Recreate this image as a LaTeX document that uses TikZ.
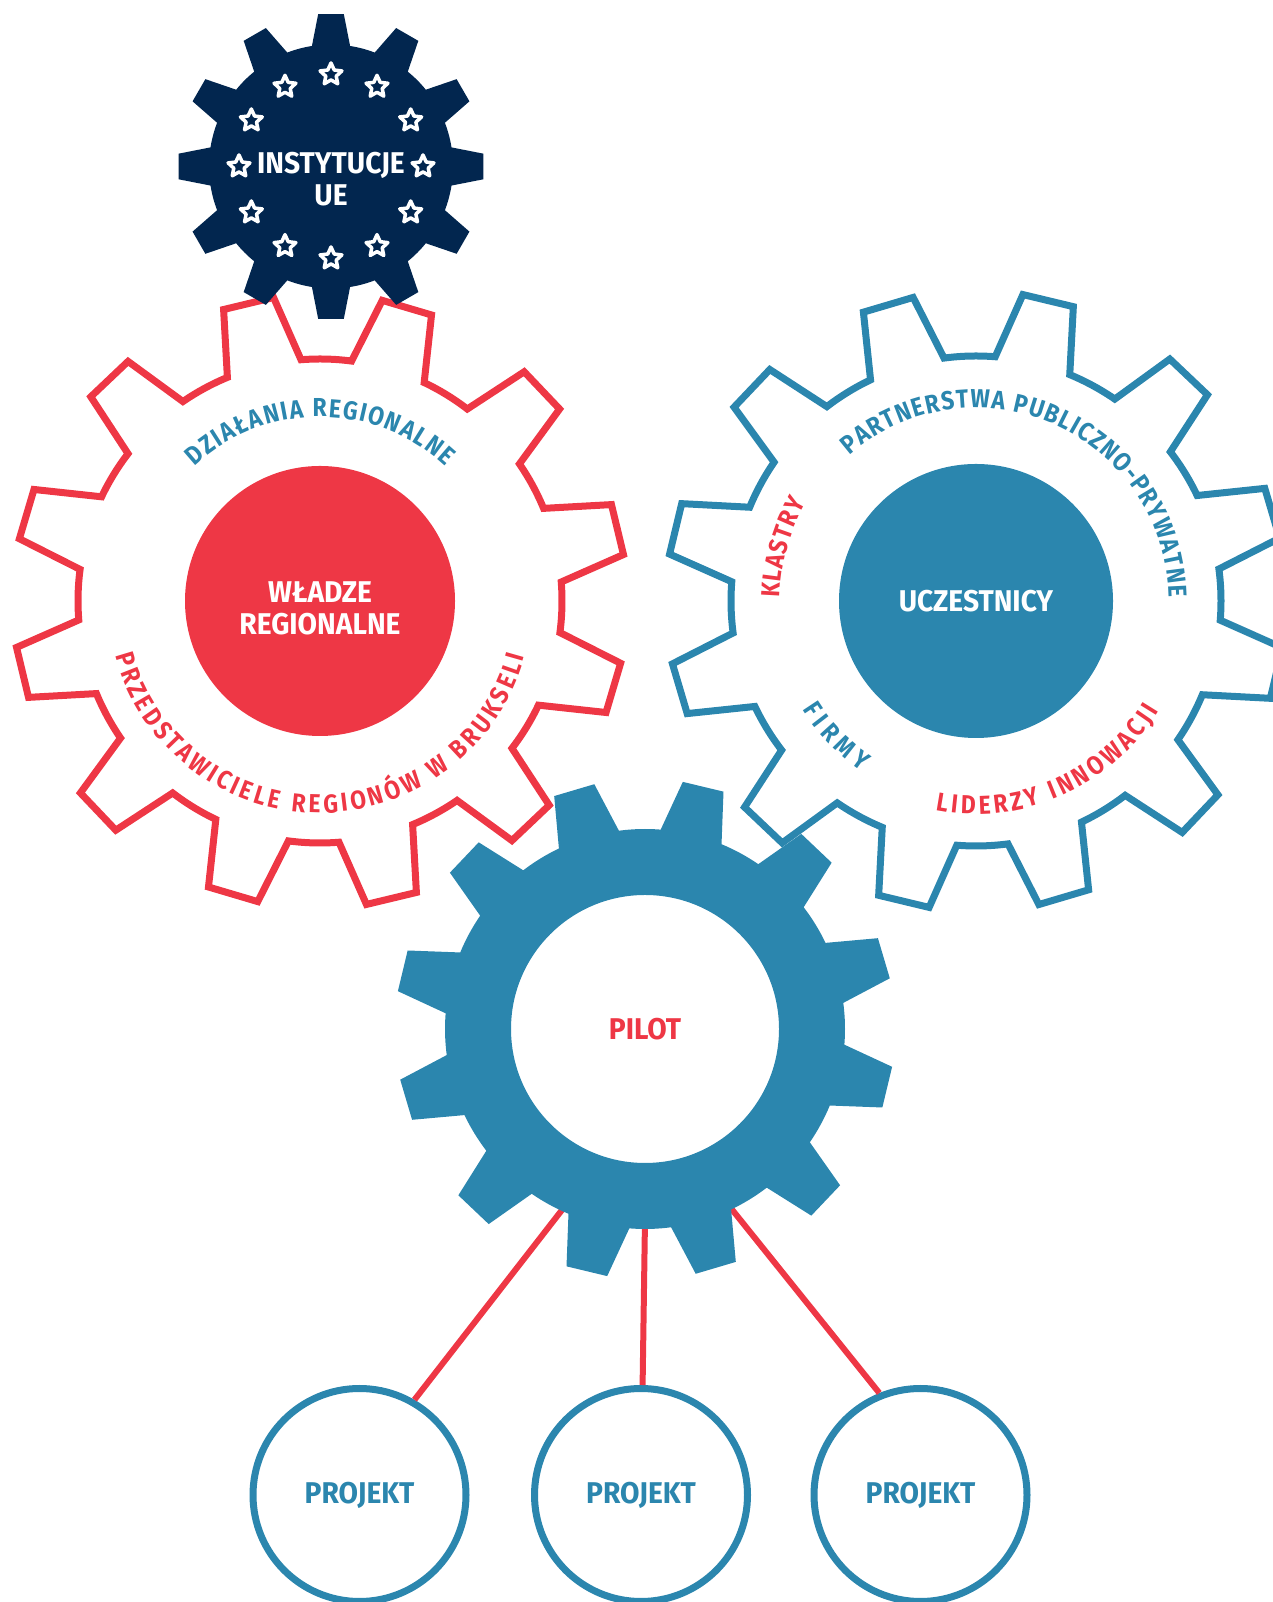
\documentclass[tikz,border=0pt]{standalone}
\usepackage{fontspec}
\setmainfont{Fira Sans}
\newfontfamily\narrowfont{Fira Sans}[FakeStretch=0.88]
\newfontfamily\hubfamily{Fira Sans}[FakeStretch=0.94]
\usetikzlibrary{shapes.geometric,decorations.text}

\definecolor{eured}{HTML}{EE3745}
\definecolor{eublue}{HTML}{2B86AE}
\definecolor{eunavy}{HTML}{02264F}

\newcommand{\hubfont}{\hubfamily\bfseries\fontsize{30}{32}\selectfont}
\newcommand{\arcfont}{\narrowfont\bfseries\fontsize{26}{26}\selectfont}

% #1 centre, #2 root radius, #3 tip radius, #4 angle of first tooth
\newcommand{\gearpath}[4]{%
  ([shift={(#4-15:#2)}]#1)
  \foreach \tooth in {0,...,11}{
    arc[start angle=#4-15+30*\tooth, end angle=#4-9+30*\tooth, radius=#2]
    -- ([shift={(#4-4.8+30*\tooth:#3)}]#1)
    -- ([shift={(#4+4.8+30*\tooth:#3)}]#1)
    -- ([shift={(#4+9+30*\tooth:#2)}]#1)
    arc[start angle=#4+9+30*\tooth, end angle=#4+15+30*\tooth, radius=#2]
  } -- cycle}

\tikzstyle{hub} = [circle, inner sep=0pt, text=white, font=\hubfont, align=center]
\tikzstyle{gearline} = [line width=7pt, line join=miter]
\tikzstyle{projekt} = [circle, draw=eublue, line width=7pt, fill=white,
    minimum size=213pt, inner sep=0pt, text=eublue, font=\hubfont]
\tikzstyle{eustar} = [star, star points=5, star point ratio=2.1, draw=white,
    fill=eunavy, line width=3.5pt, line join=round, minimum size=23pt, inner sep=0pt]
\tikzstyle{link} = [draw=eured, line width=6pt]

\begin{document}
\begin{tikzpicture}[x=1pt, y=1pt]
\useasboundingbox (0,0) rectangle (1272,1602);

\coordinate (eu) at (331,1435.5);
\coordinate (rg) at (320,1001);
\coordinate (bg) at (976,1001);
\coordinate (pg) at (645,573);

% regional gear
\draw[gearline, draw=eured] \gearpath{rg}{242}{307}{13.5};
\node[hub, fill=eured, minimum size=270pt] (wladze) at (rg) {};
\node[hub, yshift=-7pt] (wladzetxt) at (rg) {WŁADZE\\REGIONALNE};
\path[decorate, decoration={text along path, text align=fit to path, text color=eublue,
    text={|\arcfont|DZIAŁANIA REGIONALNE}}]
    ([shift={(133:184)}]rg) arc[start angle=133, end angle=47, radius=184];
\path[decorate, decoration={text along path, text align=fit to path, text color=eured,
    text={|\arcfont|PRZEDSTAWICIELE REGIONÓW W BRUKSELI}}]
    ([shift={(195:212)}]rg) arc[start angle=195, end angle=345, radius=212];

% participants gear
\draw[gearline, draw=eublue] \gearpath{bg}{245}{310}{16.5};
\node[hub, fill=eublue, minimum size=274pt] (uczestnicy) at (bg) {UCZESTNICY};
\path[decorate, decoration={text along path, text align=fit to path, text color=eublue,
    text={|\arcfont|PARTNERSTWA PUBLICZNO-PRYWATNE}}]
    ([shift={(131:193)}]bg) arc[start angle=131, end angle=1, radius=193];
\path[decorate, decoration={text along path, text align=fit to path, text color=eured,
    text={|\arcfont|KLASTRY}}]
    ([shift={(179:196)}]bg) arc[start angle=179, end angle=150, radius=196];
\path[decorate, decoration={text along path, text align=fit to path, text color=eublue,
    text={|\arcfont|FIRMY}}]
    ([shift={(212:205)}]bg) arc[start angle=212, end angle=236, radius=205];
\path[decorate, decoration={text along path, text align=fit to path, text color=eured,
    text={|\arcfont|LIDERZY INNOWACJI}}]
    ([shift={(259:213)}]bg) arc[start angle=259, end angle=329, radius=213];

% EU gear
\fill[eunavy] \gearpath{eu}{122}{153}{0};
\foreach \a in {0,30,...,330}
    \node[eustar] (star\a) at ([shift={(\a:92)}]eu) {};
\node[hub, yshift=-12.5pt] (instytucje) at (eu) {INSTYTUCJE\\UE};

% projects
\node[projekt] (p1) at (359.5,107) {PROJEKT};
\node[projekt] (p2) at (641,107) {PROJEKT};
\node[projekt] (p3) at (920.5,107) {PROJEKT};
\coordinate (gl) at ([shift={(246:190)}]pg);
\coordinate (gm) at ([shift={(270:190)}]pg);
\coordinate (gr) at ([shift={(295:190)}]pg);
\draw[link] (p1.60) -- (gl);
\draw[link] (p2) -- (gm);
\draw[link] (p3.112) -- (gr);

% pilot gear
\fill[eublue, even odd rule] \gearpath{pg}{200}{250}{16.5} (pg) circle[radius=134];
\node[hub, text=eured] (pilot) at (pg) {PILOT};
\end{tikzpicture}
\end{document}
